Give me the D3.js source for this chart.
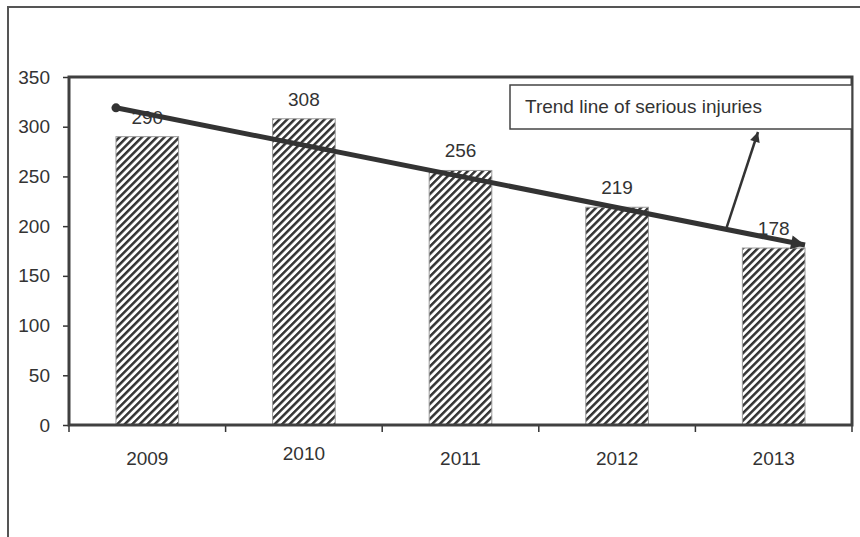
<!DOCTYPE html>
<html>
<head>
<meta charset="utf-8">
<script src="https://cdn.jsdelivr.net/npm/d3@7"></script>
<style>
  html, body { margin: 0; padding: 0; background: #fff; }
  svg { display: block; font-family: "Liberation Sans", Arial, sans-serif; }
</style>
</head>
<body>
<svg id="chart" width="860" height="537"></svg>
<script>
// Serious injuries per year
const years = ["2009", "2010", "2011", "2012", "2013"];
const injuries = [290, 308, 256, 219, 178];
const yTicks = [0, 50, 100, 150, 200, 250, 300, 350];
// Trend line values at the outer edges of the first and last bars
const trendEnds = [319, 181];
const calloutText = "Trend line of serious injuries";

const svg = d3.select("#chart");
const ink = "#333";
const fontSize = 19;
const plot = { left: 69, right: 852, top: 77, bottom: 425 };

const x = d3.scaleBand().domain(years)
  .range([plot.left, plot.right]).paddingInner(0.6).paddingOuter(0.3);
const y = d3.scaleLinear().domain([0, 350]).range([plot.bottom, plot.top]);

// Outer chart frame (runs off the right and bottom edges)
svg.append("rect").attr("x", 8).attr("y", 7).attr("width", 900).attr("height", 600)
  .attr("fill", "none").attr("stroke", "#555").attr("stroke-width", 2);

// Diagonal hatch for the bars
const defs = svg.append("defs");
const pat = defs.append("pattern").attr("id", "hatch")
  .attr("patternUnits", "userSpaceOnUse").attr("width", 5.3).attr("height", 5.3)
  .attr("patternTransform", "rotate(45)");
pat.append("rect").attr("width", 5.3).attr("height", 5.3).attr("fill", "#fff");
pat.append("rect").attr("width", 2.5).attr("height", 5.3).attr("fill", ink);

defs.append("marker").attr("id", "headBig")
  .attr("viewBox", "0 0 10 10").attr("refX", 10).attr("refY", 5)
  .attr("markerUnits", "userSpaceOnUse").attr("markerWidth", 16).attr("markerHeight", 14)
  .attr("orient", "auto")
  .append("path").attr("d", "M0,0L10,5L0,10Z").attr("fill", ink);
defs.append("marker").attr("id", "headSmall")
  .attr("viewBox", "0 0 10 10").attr("refX", 10).attr("refY", 5)
  .attr("markerUnits", "userSpaceOnUse").attr("markerWidth", 12).attr("markerHeight", 10)
  .attr("orient", "auto")
  .append("path").attr("d", "M0,0L10,5L0,10Z").attr("fill", ink);

// Bars
svg.append("g").selectAll("rect").data(years).join("rect")
  .attr("x", d => x(d))
  .attr("y", (d, i) => y(injuries[i]))
  .attr("width", x.bandwidth())
  .attr("height", (d, i) => y(0) - y(injuries[i]))
  .attr("fill", "url(#hatch)")
  .attr("stroke", "#999").attr("stroke-width", 1);

// Value labels
svg.append("g").selectAll("text").data(years).join("text")
  .attr("x", d => x(d) + x.bandwidth() / 2)
  .attr("y", (d, i) => y(injuries[i]) - 13)
  .attr("text-anchor", "middle")
  .attr("font-size", fontSize).attr("fill", ink)
  .text((d, i) => injuries[i]);

// Y axis
const yAxis = svg.append("g").attr("transform", `translate(${plot.left},0)`)
  .call(d3.axisLeft(y).tickValues(yTicks).tickSize(6).tickPadding(13).tickSizeOuter(0));
yAxis.select(".domain").remove();
yAxis.selectAll("line").attr("stroke", ink).attr("stroke-width", 1.5);
yAxis.selectAll("text").attr("font-size", fontSize).attr("fill", ink)
  .attr("font-family", "Liberation Sans, Arial, sans-serif");

// X axis labels
const xAxis = svg.append("g").attr("transform", `translate(0,${plot.bottom})`)
  .call(d3.axisBottom(x).tickSize(0).tickPadding(27));
xAxis.select(".domain").remove();
xAxis.selectAll("text").attr("font-size", fontSize).attr("fill", ink)
  .attr("font-family", "Liberation Sans, Arial, sans-serif")
  .attr("y", d => d === "2010" ? 22 : 27);

// X ticks at category boundaries
const bounds = d3.range(years.length + 1).map(i => plot.left + i * x.step());
svg.append("g").selectAll("line").data(bounds).join("line")
  .attr("x1", d => d).attr("x2", d => d)
  .attr("y1", plot.bottom).attr("y2", plot.bottom + 7)
  .attr("stroke", ink).attr("stroke-width", 1.5);

// Plot area frame
svg.append("rect").attr("x", plot.left).attr("y", plot.top)
  .attr("width", plot.right - plot.left).attr("height", plot.bottom - plot.top)
  .attr("fill", "none").attr("stroke", "#404040").attr("stroke-width", 3);

// Trend line
const tx0 = x(years[0]);
const tx1 = x(years[years.length - 1]) + x.bandwidth();
svg.append("line")
  .attr("x1", tx0).attr("y1", y(trendEnds[0]))
  .attr("x2", tx1).attr("y2", y(trendEnds[1]))
  .attr("stroke", ink).attr("stroke-width", 5)
  .attr("marker-end", "url(#headBig)");
svg.append("circle").attr("cx", tx0).attr("cy", y(trendEnds[0])).attr("r", 4.5).attr("fill", ink);

// Callout box and pointer
const box = { x: 510, y: 85, w: plot.right - 510, h: 44 };
svg.append("rect").attr("x", box.x).attr("y", box.y).attr("width", box.w).attr("height", box.h)
  .attr("fill", "#fff").attr("stroke", "#444").attr("stroke-width", 1.5);
svg.append("text").attr("x", box.x + 15).attr("y", box.y + 28)
  .attr("font-size", fontSize).attr("fill", ink).text(calloutText);

const t = (726 - tx0) / (tx1 - tx0);
const py = y(trendEnds[0] + t * (trendEnds[1] - trendEnds[0]));
svg.append("line")
  .attr("x1", 726).attr("y1", py)
  .attr("x2", 758).attr("y2", box.y + box.h + 3)
  .attr("stroke", ink).attr("stroke-width", 2.5)
  .attr("marker-end", "url(#headSmall)");
</script>
</body>
</html>
